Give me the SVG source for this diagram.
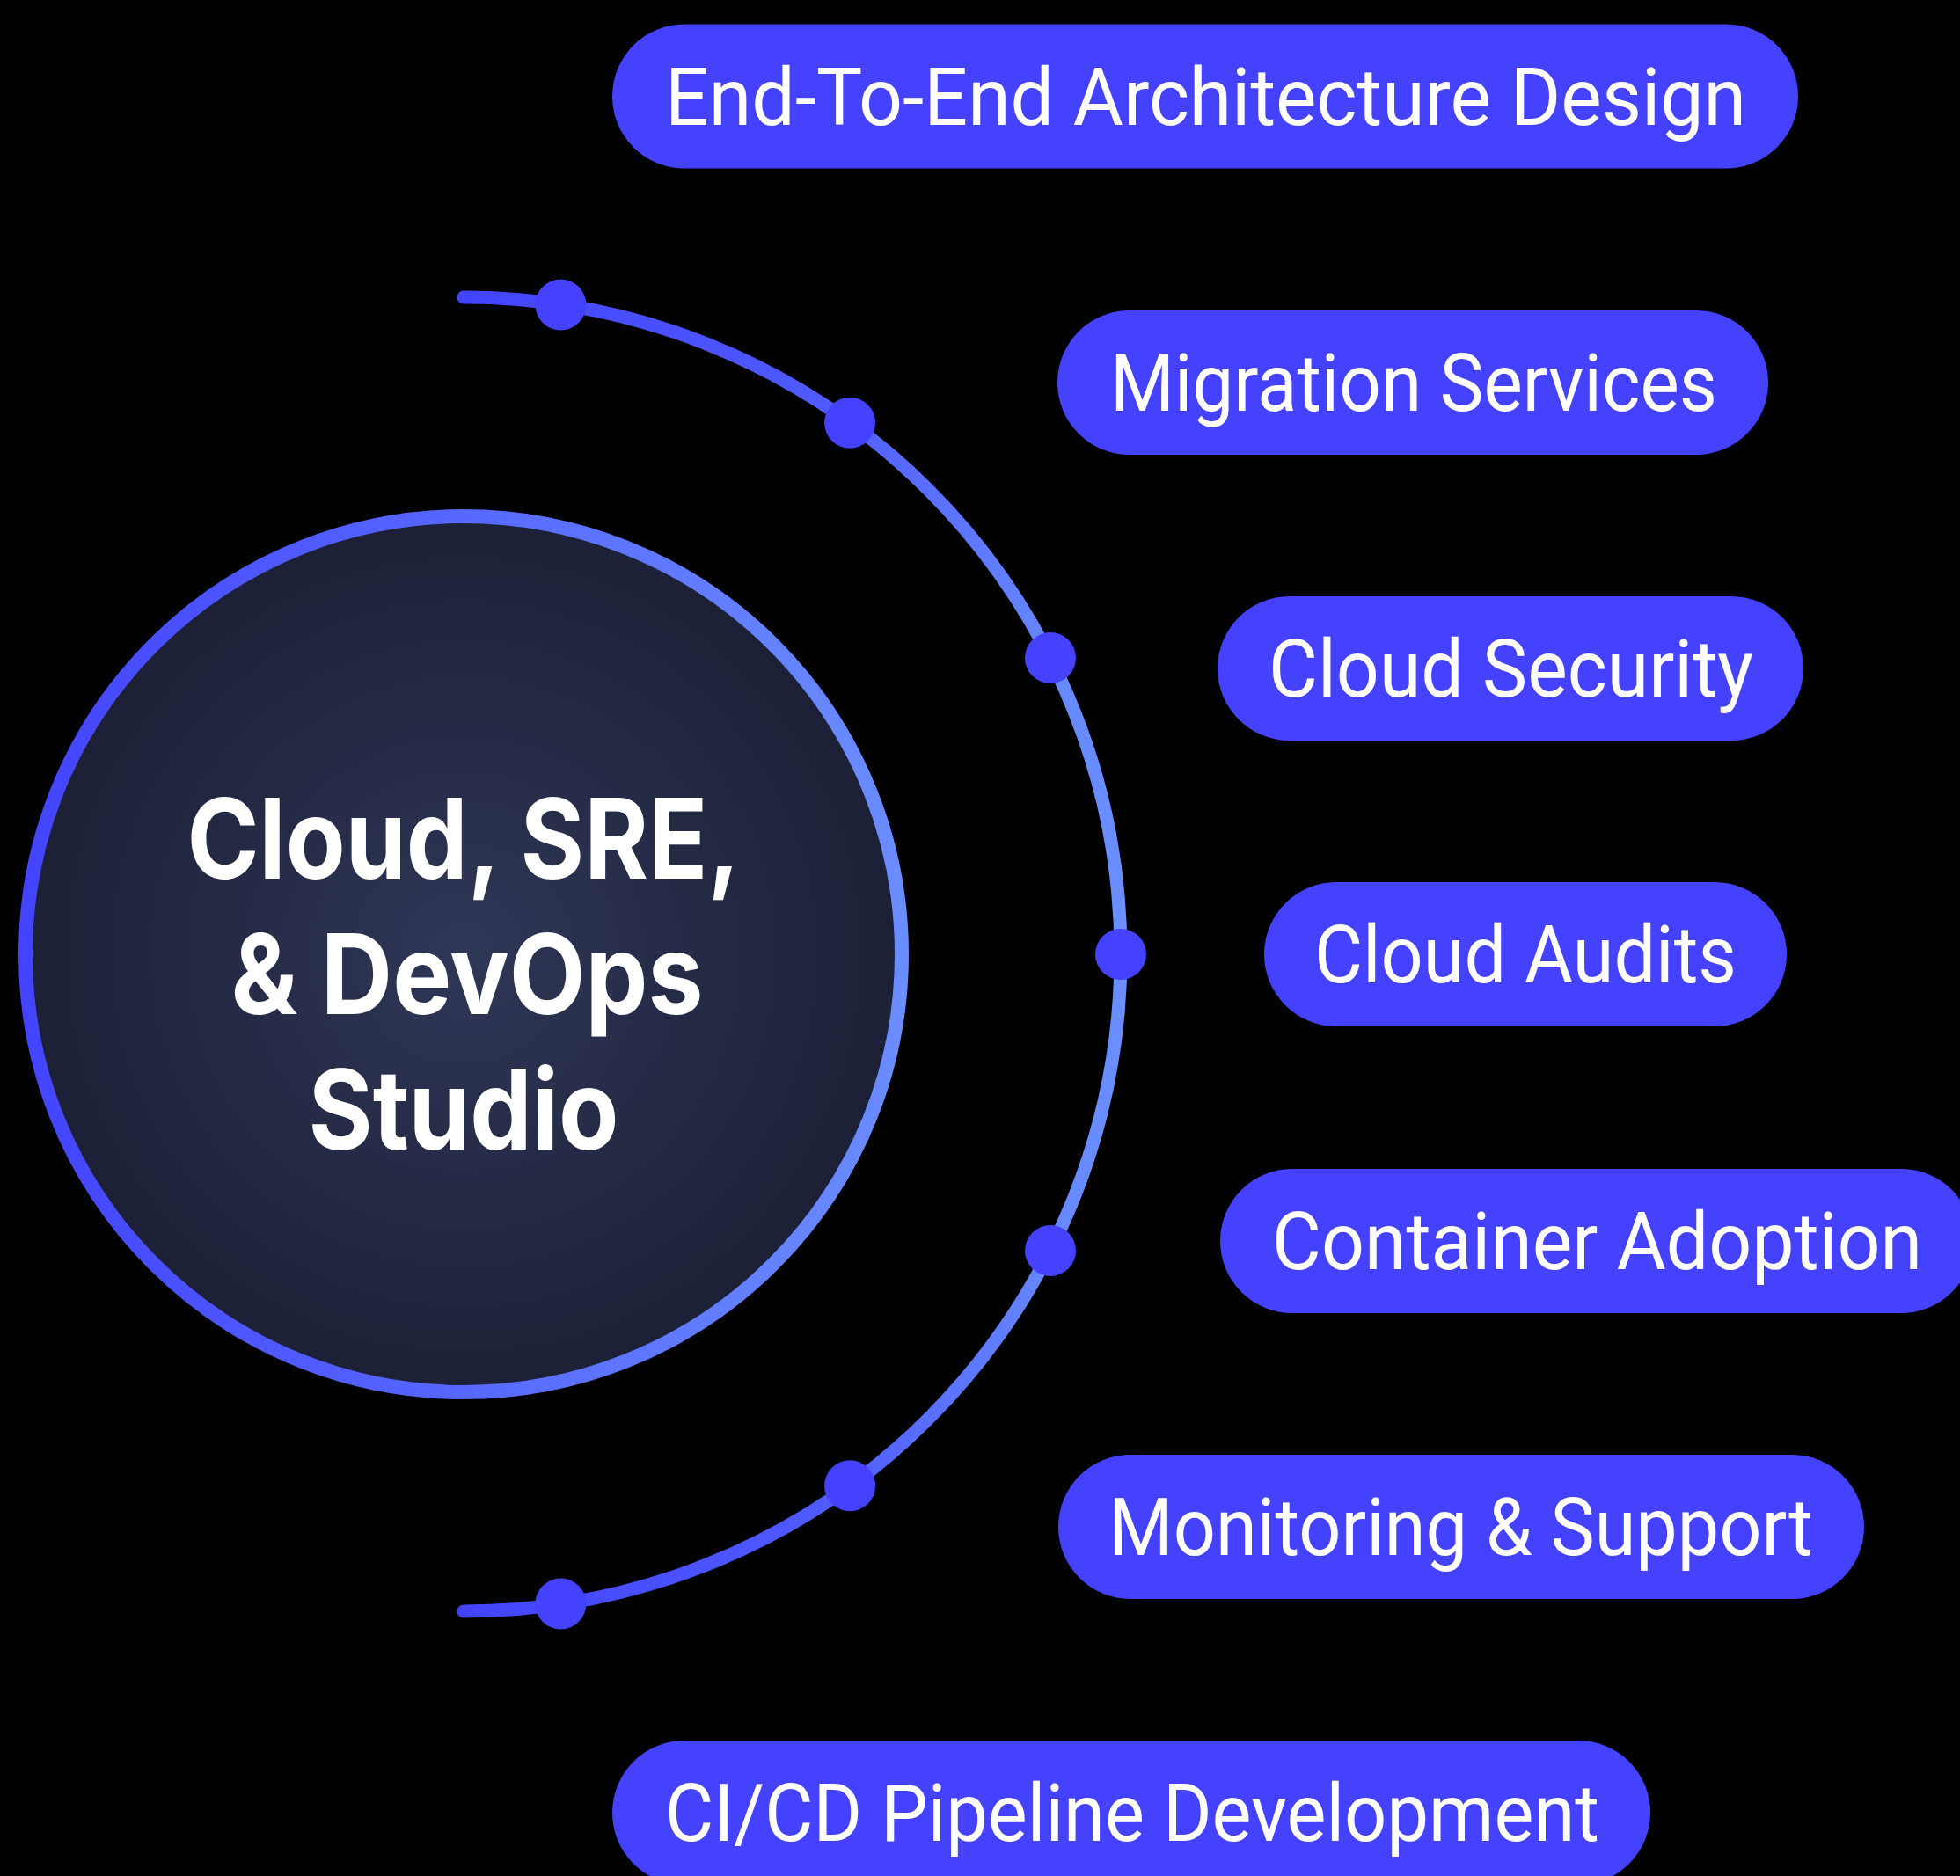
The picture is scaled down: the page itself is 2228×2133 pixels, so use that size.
<svg xmlns="http://www.w3.org/2000/svg" width="2228" height="2133" viewBox="0 0 2228 2133">
<style>
.pill{fill:#4542FF}
.pt{fill:#FFFFFF;font-family:Roboto,"Liberation Sans",sans-serif;font-size:90px;font-weight:400}
.ct{fill:#FFFFFF;font-family:Inter,"Liberation Sans",sans-serif;font-size:126px;font-weight:700;text-anchor:middle}
.dot{fill:#4542FF}
</style>
<defs>
<radialGradient id="hubFill" cx="527" cy="1085" r="498" gradientUnits="userSpaceOnUse">
<stop offset="0" stop-color="#2F3757"/>
<stop offset="1" stop-color="#1C2036"/>
</radialGradient>
<linearGradient id="hubStroke" x1="21" y1="0" x2="1033" y2="0" gradientUnits="userSpaceOnUse">
<stop offset="0" stop-color="#4343FF"/>
<stop offset="1" stop-color="#6A8DFF"/>
</linearGradient>
<linearGradient id="arcStroke" x1="527" y1="0" x2="1274" y2="0" gradientUnits="userSpaceOnUse">
<stop offset="0" stop-color="#4343FF"/>
<stop offset="0.55" stop-color="#4F5AFF"/>
<stop offset="0.9" stop-color="#6688FF"/>
<stop offset="1" stop-color="#6A8EFF"/>
</linearGradient>
</defs>
<rect x="0" y="0" width="2228" height="2133" fill="#000000"/>

<g id="connectors">
<path d="M527 338 A747 747 0 0 1 527 1832" fill="none" stroke="url(#arcStroke)" stroke-width="15" stroke-linecap="round"/>
<circle class="dot" cx="637.4" cy="346.5" r="29"/>
<circle class="dot" cx="966.1" cy="480.7" r="29"/>
<circle class="dot" cx="1194" cy="748" r="29"/>
<circle class="dot" cx="1274" cy="1085" r="29"/>
<circle class="dot" cx="1194" cy="1422" r="29"/>
<circle class="dot" cx="966.1" cy="1689.3" r="29"/>
<circle class="dot" cx="637.4" cy="1823.5" r="29"/>
</g>

<g id="hub">
<circle cx="527" cy="1085" r="498" fill="url(#hubFill)" stroke="url(#hubStroke)" stroke-width="16"/>
<text class="ct" x="527" y="999" textLength="629" lengthAdjust="spacingAndGlyphs">Cloud, SRE,</text>
<text class="ct" x="531" y="1153" textLength="537" lengthAdjust="spacingAndGlyphs">&amp; DevOps</text>
<text class="ct" x="527" y="1307" textLength="353" lengthAdjust="spacingAndGlyphs">Studio</text>
</g>

<g id="pill-architecture">
<rect class="pill" x="696" y="27.5" width="1348" height="164" rx="82"/>
<text class="pt" x="756" y="142" textLength="1229" lengthAdjust="spacingAndGlyphs">End-To-End Architecture Design</text>
</g>
<g id="pill-migration">
<rect class="pill" x="1202" y="353" width="808" height="164" rx="82"/>
<text class="pt" x="1262" y="467" textLength="690" lengthAdjust="spacingAndGlyphs">Migration Services</text>
</g>
<g id="pill-security">
<rect class="pill" x="1384" y="678" width="666" height="164" rx="82"/>
<text class="pt" x="1442" y="792" textLength="551" lengthAdjust="spacingAndGlyphs">Cloud Security</text>
</g>
<g id="pill-audits">
<rect class="pill" x="1437" y="1003" width="594" height="164" rx="82"/>
<text class="pt" x="1494" y="1117" textLength="480" lengthAdjust="spacingAndGlyphs">Cloud Audits</text>
</g>
<g id="pill-container">
<rect class="pill" x="1387" y="1329" width="856" height="164" rx="82"/>
<text class="pt" x="1446" y="1443" textLength="739" lengthAdjust="spacingAndGlyphs">Container Adoption</text>
</g>
<g id="pill-monitoring">
<rect class="pill" x="1203" y="1654" width="916" height="164" rx="82"/>
<text class="pt" x="1260" y="1768" textLength="801" lengthAdjust="spacingAndGlyphs">Monitoring &amp; Support</text>
</g>
<g id="pill-cicd">
<rect class="pill" x="696" y="1979" width="1180" height="164" rx="82"/>
<text class="pt" x="756" y="2093" textLength="1062" lengthAdjust="spacingAndGlyphs">CI/CD Pipeline Development</text>
</g>
</svg>
